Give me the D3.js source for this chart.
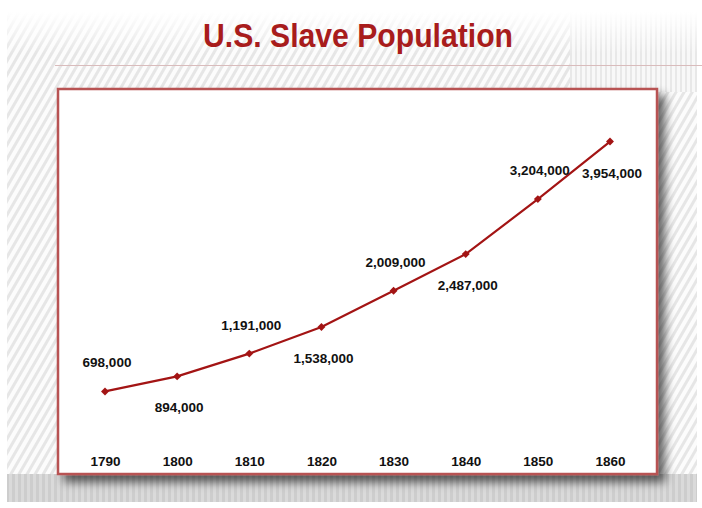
<!DOCTYPE html>
<html>
<head>
<meta charset="utf-8">
<script src="https://cdn.jsdelivr.net/npm/d3@7"></script>
<style>
  html, body { margin: 0; padding: 0; background: #ffffff; }
  svg { display: block; }
</style>
</head>
<body>
<svg id="chart" width="702" height="508"></svg>
<script>
// ---- data ----
const title = "U.S. Slave Population";
const years = ["1790", "1800", "1810", "1820", "1830", "1840", "1850", "1860"];
const population = [698000, 894000, 1191000, 1538000, 2009000, 2487000, 3204000, 3954000];
const labelSide = ["above", "below", "above", "below", "above", "below", "above", "below"];

const svg = d3.select("#chart");
const W = 702, H = 508;
const defs = svg.append("defs");

// diagonal stripe pattern
const diag = defs.append("pattern").attr("id", "diag")
  .attr("patternUnits", "userSpaceOnUse").attr("width", 7).attr("height", 7)
  .attr("patternTransform", "rotate(30)");
diag.append("rect").attr("width", 7).attr("height", 7).attr("fill", "#fcfcfc");
diag.append("rect").attr("width", 3).attr("height", 7).attr("fill", "#e6e6e6");

// vertical stripe pattern
const vert = defs.append("pattern").attr("id", "vert")
  .attr("patternUnits", "userSpaceOnUse").attr("width", 5).attr("height", 6);
vert.append("rect").attr("width", 5).attr("height", 6).attr("fill", "#f8f8f8");
vert.append("rect").attr("width", 2).attr("height", 6).attr("fill", "#e8e8e8");

const vertDark = defs.append("pattern").attr("id", "vertDark")
  .attr("patternUnits", "userSpaceOnUse").attr("width", 6).attr("height", 6);
vertDark.append("rect").attr("width", 6).attr("height", 6).attr("fill", "#dadada");
vertDark.append("rect").attr("width", 3).attr("height", 6).attr("fill", "#cdcdcd");

// fade gradient at top
const fade = defs.append("linearGradient").attr("id", "fade")
  .attr("x1", 0).attr("y1", 0).attr("x2", 0).attr("y2", 1);
fade.append("stop").attr("offset", "0").attr("stop-color", "#fff").attr("stop-opacity", 1);
fade.append("stop").attr("offset", "1").attr("stop-color", "#fff").attr("stop-opacity", 0);

// shadow filter
const sh = defs.append("filter").attr("id", "shadow")
  .attr("x", "-10%").attr("y", "-10%").attr("width", "130%").attr("height", "130%");
sh.append("feGaussianBlur").attr("in", "SourceAlpha").attr("stdDeviation", 5).attr("result", "b");
sh.append("feOffset").attr("in", "b").attr("dx", 7).attr("dy", 7).attr("result", "o");
sh.append("feComponentTransfer").attr("in", "o").attr("result", "o2")
  .append("feFuncA").attr("type", "linear").attr("slope", 0.6);
const mg = sh.append("feMerge");
mg.append("feMergeNode").attr("in", "o2");
mg.append("feMergeNode").attr("in", "SourceGraphic");

const bgX = 7, bgY = 12, bgW = 690, bgH = 490;

// background texture
svg.append("rect").attr("x", bgX).attr("y", bgY).attr("width", bgW).attr("height", bgH).attr("fill", "url(#diag)");
svg.append("rect").attr("x", 570).attr("y", bgY).attr("width", bgX + bgW - 570).attr("height", 80).attr("fill", "url(#vert)");
svg.append("rect").attr("x", bgX).attr("y", 474).attr("width", bgW).attr("height", bgY + bgH - 474).attr("fill", "url(#vertDark)");
svg.append("rect").attr("x", bgX).attr("y", bgY).attr("width", bgW).attr("height", 42).attr("fill", "url(#fade)");

// thin rule under title
svg.append("line").attr("x1", 55).attr("x2", W).attr("y1", 65.5).attr("y2", 65.5)
  .attr("stroke", "#d9bcbc").attr("stroke-width", 1);

// title
svg.append("text")
  .attr("x", 358).attr("y", 47)
  .attr("text-anchor", "middle")
  .attr("font-family", "Liberation Sans, Arial, sans-serif")
  .attr("font-weight", "bold")
  .attr("font-size", 33)
  .attr("textLength", 310).attr("lengthAdjust", "spacingAndGlyphs")
  .attr("fill", "#a81c1c")
  .text(title);

// chart box
const box = { x: 58, y: 89, w: 599, h: 385 };
svg.append("rect")
  .attr("x", box.x).attr("y", box.y).attr("width", box.w).attr("height", box.h)
  .attr("fill", "#ffffff").attr("stroke", "#b85252").attr("stroke-width", 2.5)
  .attr("filter", "url(#shadow)");

// scales
const x = d3.scalePoint().domain(years).range([105, 610]);
const y = d3.scaleLinear().domain([0, 4000000]).range([445, 138]);

const data = years.map((yr, i) => ({ year: yr, value: population[i], side: labelSide[i] }));

// x axis (labels only)
const xAxis = svg.append("g").attr("transform", "translate(0,452)")
  .call(d3.axisBottom(x).tickSize(0).tickPadding(4));
xAxis.select(".domain").remove();
xAxis.selectAll("text")
  .attr("font-family", "Liberation Sans, Arial, sans-serif")
  .attr("font-weight", "bold")
  .attr("font-size", 13.5)
  .attr("fill", "#111");

// line
const line = d3.line().x(d => x(d.year)).y(d => y(d.value));
svg.append("path").datum(data)
  .attr("d", line)
  .attr("fill", "none")
  .attr("stroke", "#a31414")
  .attr("stroke-width", 2.2);

// markers
svg.selectAll(".mk").data(data).join("path")
  .attr("class", "mk")
  .attr("transform", d => `translate(${x(d.year)},${y(d.value)})`)
  .attr("d", d3.symbol().type(d3.symbolDiamond2).size(40))
  .attr("fill", "#a31414");

// value labels
const fmt = d3.format(",");
svg.selectAll(".lbl").data(data).join("text")
  .attr("class", "lbl")
  .attr("x", d => x(d.year) + 2)
  .attr("y", d => y(d.value) + (d.side === "above" ? -24 : 36))
  .attr("text-anchor", "middle")
  .attr("font-family", "Liberation Sans, Arial, sans-serif")
  .attr("font-weight", "bold")
  .attr("font-size", 13.5)
  .attr("fill", "#111")
  .text(d => fmt(d.value));
</script>
</body>
</html>
